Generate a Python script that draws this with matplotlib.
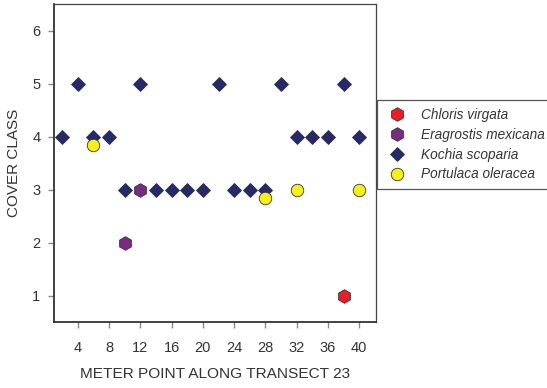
import matplotlib
matplotlib.use("Agg")
import matplotlib.pyplot as plt

plt.rcParams['font.family'] = ['Liberation Sans', 'DejaVu Sans']

chloris_x = [38]
chloris_y = [1]
eragrostis_x = [10, 12]
eragrostis_y = [2, 3]
kochia_x = [2, 4, 6, 8, 10, 12, 14, 16, 18, 20, 22, 24, 26, 28, 30, 32, 34, 36, 38, 40]
kochia_y = [4, 5, 4, 4, 3, 5, 3, 3, 3, 3, 5, 3, 3, 3, 5, 4, 4, 4, 5, 4]
portulaca_x = [6, 28, 32, 40]
portulaca_y = [3.85, 2.85, 3, 3]

x_ticks = [4, 8, 12, 16, 20, 24, 28, 32, 36, 40]
y_ticks = [1, 2, 3, 4, 5, 6]

fig = plt.figure(figsize=(5.47, 3.88), dpi=100)
ax = fig.add_axes([54.3/547, 1-322.3/388, (375.7-54.3)/547, (322.3-4)/388])

ec = '#333333'
ax.plot(chloris_x, chloris_y, linestyle='none', marker='h', markersize=9.8,
        markerfacecolor='#ee1c25', markeredgecolor=ec, markeredgewidth=0.6,
        label='Chloris virgata', zorder=3)
ax.plot(eragrostis_x, eragrostis_y, linestyle='none', marker='h', markersize=9.8,
        markerfacecolor='#7a2a83', markeredgecolor=ec, markeredgewidth=0.6,
        label='Eragrostis mexicana', zorder=3)
ax.plot(kochia_x, kochia_y, linestyle='none', marker='D', markersize=7.2,
        markerfacecolor='#232a6d', markeredgecolor=ec, markeredgewidth=0.6,
        label='Kochia scoparia', zorder=2)
ax.plot(portulaca_x, portulaca_y, linestyle='none', marker='o', markersize=9,
        markerfacecolor='#f7ef17', markeredgecolor=ec, markeredgewidth=0.6,
        label='Portulaca oleracea', zorder=4)

ax.set_xlim(1, 42.1)
ax.set_ylim(0.5, 6.5)
ax.set_xticks(x_ticks)
ax.set_yticks(y_ticks)
ax.tick_params(axis='both', direction='out', length=4, width=1, color='#888888',
               labelsize=10.5, labelcolor='#333333')
ax.tick_params(axis='x', pad=9.5)
ax.tick_params(axis='y', pad=6)

for side in ['left', 'bottom']:
    ax.spines[side].set_linewidth(1.3)
    ax.spines[side].set_color('#333333')
for side in ['top', 'right']:
    ax.spines[side].set_linewidth(0.9)
    ax.spines[side].set_color('#444444')

ax.set_xlabel('METER POINT ALONG TRANSECT 23', fontsize=11.1, color='#333333', labelpad=8.5)
ax.set_ylabel('COVER CLASS', fontsize=11, color='#333333', labelpad=8)

leg = fig.legend(loc='upper left', bbox_to_anchor=(377/547, 1-100/388),
                 prop={'style': 'italic', 'size': 9.8}, frameon=True, fancybox=False,
                 edgecolor='#555555', framealpha=1, labelspacing=0.42,
                 handletextpad=0.8, borderpad=0.6, handlelength=1.8, borderaxespad=0)
for t in leg.get_texts():
    t.set_color('#333333')
leg.get_frame().set_linewidth(0.9)

fig.savefig('out.png', dpi=100)
